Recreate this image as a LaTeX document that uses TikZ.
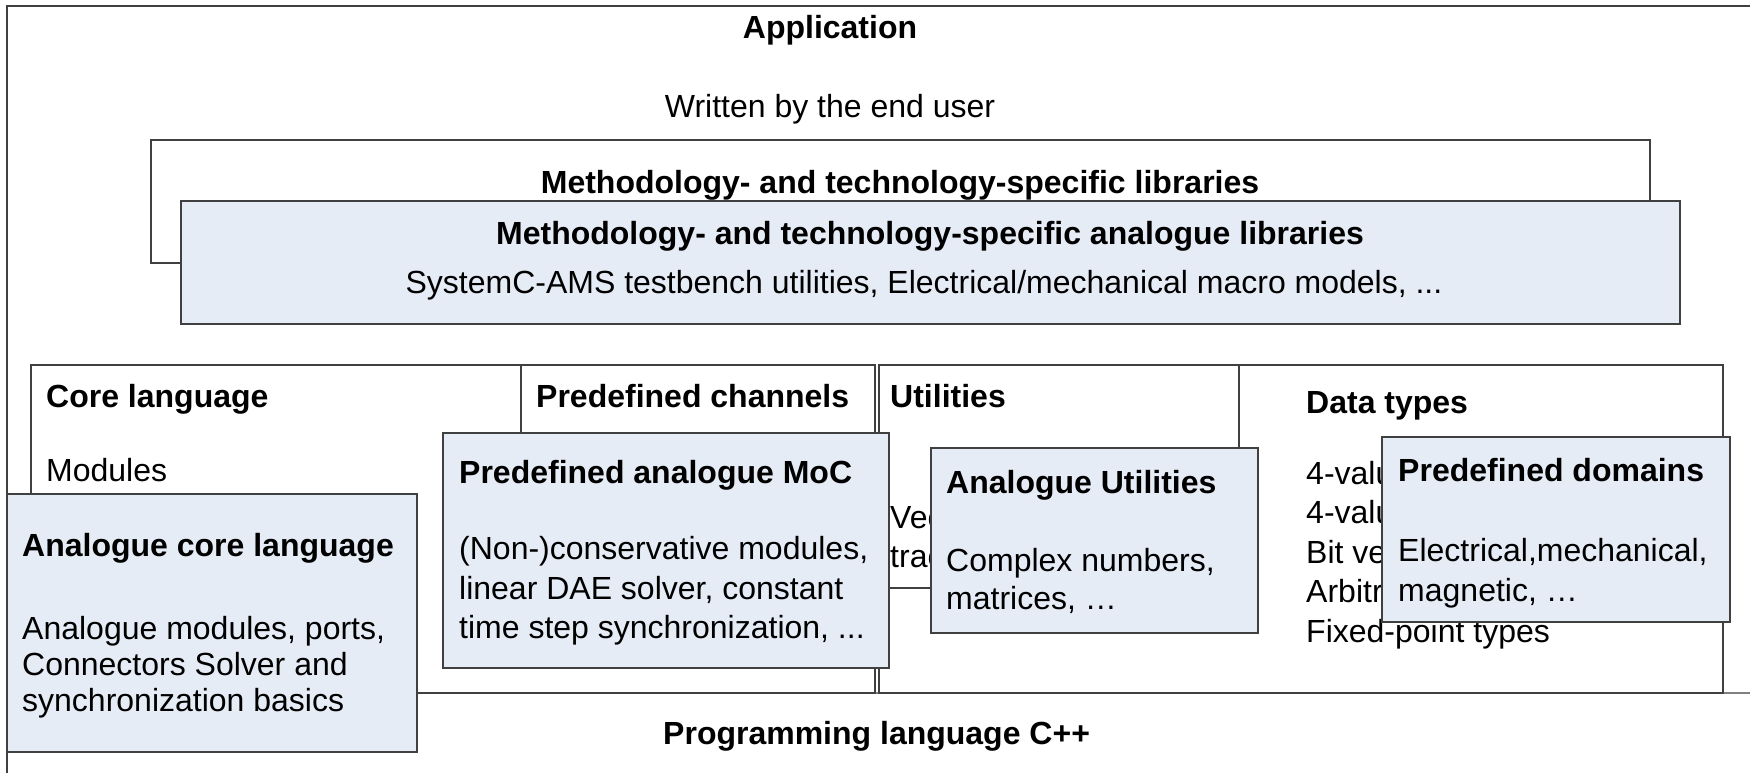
\documentclass[tikz,border=0pt]{standalone}
\usepackage{fontspec}
\setmainfont{Liberation Sans}
\definecolor{anablue}{RGB}{230,236,246}
\definecolor{edge}{RGB}{64,64,64}
\begin{document}
\begin{tikzpicture}[x=1pt,y=-1pt,
  box/.style={draw=edge, line width=1.4pt, fill=white},
  abox/.style={draw=edge, line width=1.4pt, fill=anablue},
  ttl/.style={anchor=base west, inner sep=0pt, font=\fontsize{32}{38}\selectfont\bfseries},
  txt/.style={anchor=base west, inner sep=0pt, font=\fontsize{32}{38}\selectfont},
  ]
\useasboundingbox (0,0) rectangle (1750,773);
\clip (0,0) rectangle (1750,773);

% outer application frame
\draw[box] (7,6) rectangle (1775,800);
\node[ttl, anchor=base] (app) at (830,39) {Application};
\node[txt, anchor=base] (user) at (830,118) {Written by the end user};

% libraries
\draw[box] (151,140) rectangle (1650,263);
\node[ttl, anchor=base] (libt) at (900,193) {Methodology- and technology-specific libraries};
\draw[abox] (181,201) rectangle (1680,324);
\node[ttl, anchor=base] (alibt) at (930,244) {Methodology- and technology-specific analogue libraries};
\node[txt, anchor=base] (alibs) at (924,293) {SystemC-AMS testbench utilities, Electrical/mechanical macro models, ...};

% C++ layer top line
\draw[draw=gray, line width=1.4pt] (7,693) -- (1775,693);
\node[ttl] (cpp) at (663,744) {Programming language C++};

% core language + predefined channels
\draw[box] (31,365) rectangle (875,693);
\node[ttl] (coret) at (46,407) {Core language};
\node[txt] (mods) at (46,481) {Modules};
\draw[box] (521,365) rectangle (875,600);
\node[ttl] (pcht) at (536,407) {Predefined channels};

% utilities + data types
\draw[box] (879,365) rectangle (1723,693);
\draw[box] (879,365) rectangle (1239,588);
\node[ttl] (utilt) at (890,407) {Utilities};
\node[txt] (util1) at (890,528) {Vectors, report handling,};
\node[txt] (util2) at (890,567) {tracing};
\node[ttl] (dtt) at (1306,413) {Data types};
\node[txt] (dt1) at (1306,484) {4-valued logic type};
\node[txt] (dt2) at (1306,523) {4-valued logic vectors};
\node[txt] (dt3) at (1306,563) {Bit vectors};
\node[txt] (dt4) at (1306,602) {Arbitrary precision integers};
\node[txt] (dt5) at (1306,642) {Fixed-point types};

% analogue core language
\draw[abox] (7,494) rectangle (417,752);
\node[ttl] (aclt) at (22,556) {Analogue core language};
\node[txt] (acl1) at (22,639) {Analogue modules, ports,};
\node[txt] (acl2) at (22,675) {Connectors Solver and};
\node[txt] (acl3) at (22,711) {synchronization basics};

% predefined analogue MoC
\draw[abox] (443,433) rectangle (889,668);
\node[ttl] (moct) at (459,483) {Predefined analogue MoC};
\node[txt] (moc1) at (459,559) {(Non-)conservative modules,};
\node[txt] (moc2) at (459,599) {linear DAE solver, constant};
\node[txt] (moc3) at (459,638) {time step synchronization, ...};

% analogue utilities
\draw[abox] (931,448) rectangle (1258,633);
\node[ttl] (aut) at (946,493) {Analogue Utilities};
\node[txt] (au1) at (946,571) {Complex numbers,};
\node[txt] (au2) at (946,609) {matrices, …};

% predefined domains
\draw[abox] (1382,437) rectangle (1730,622);
\node[ttl] (pdt) at (1398,481) {Predefined domains};
\node[txt] (pd1) at (1398,561) {Electrical,mechanical,};
\node[txt] (pd2) at (1398,601) {magnetic, …};
\end{tikzpicture}
\end{document}
